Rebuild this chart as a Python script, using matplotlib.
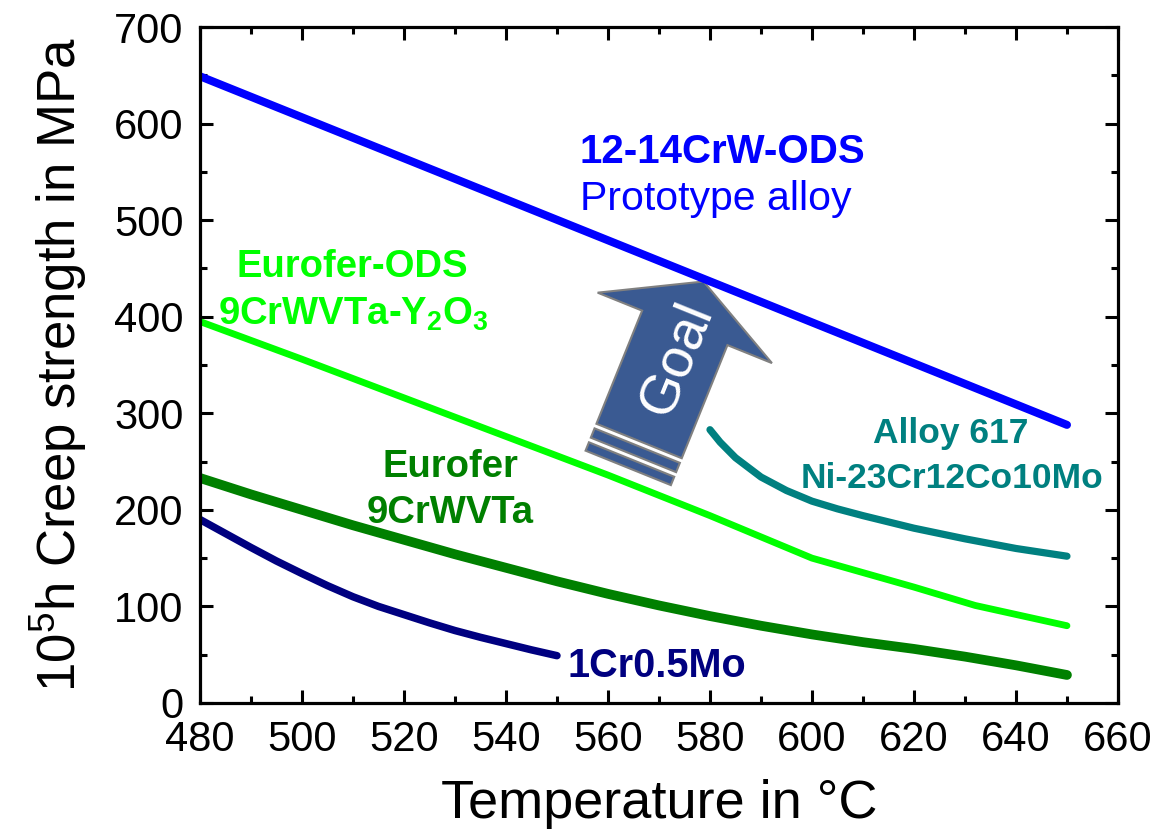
import matplotlib
matplotlib.use("Agg")
import matplotlib.pyplot as plt
from matplotlib.patches import Polygon
from matplotlib.transforms import Affine2D, ScaledTranslation

plt.rcParams['font.family'] = ['Liberation Sans', 'DejaVu Sans']
plt.rcParams['mathtext.fontset'] = 'custom'
plt.rcParams['mathtext.rm'] = 'Liberation Sans'
plt.rcParams['mathtext.it'] = 'Liberation Sans:italic'
plt.rcParams['mathtext.bf'] = 'Liberation Sans:bold'

# 1e5 h creep strength (MPa) over temperature (degC)
temp_crw_ods = [480, 650]
strength_crw_ods = [649, 288]

temp_eurofer_ods = [480, 500, 520, 540, 560, 580, 600, 620, 632, 650]
strength_eurofer_ods = [395, 356, 316, 276, 236, 194, 150, 120, 101, 80]

temp_eurofer = [480, 490, 500, 510, 520, 530, 540, 550, 560, 570,
                580, 590, 600, 610, 620, 630, 640, 650]
strength_eurofer = [233, 216, 200, 184, 169, 154, 140, 126, 113, 101,
                    90, 80, 71, 63, 56, 48, 39, 29]

temp_cr05mo = [480, 485, 490, 495, 500, 505, 510, 515,
               520, 525, 530, 535, 540, 545, 550]
strength_cr05mo = [190, 175.5, 161, 147, 134, 121.5, 110, 100,
                   91.5, 83, 75, 68, 61.5, 55, 49]

temp_alloy617 = [580, 582, 585, 590, 595, 600, 605, 610, 620, 630, 640, 650]
strength_alloy617 = [283, 270, 254, 234, 220, 209, 201, 194, 181, 170, 160, 152]

x_ticks = list(range(480, 661, 20))
y_ticks = list(range(0, 701, 100))


def goal_arrow(ax, x0, y0, angle):
    # outline in pixels, pointing up before rotation, origin at shaft bottom
    body = [(-46, 0), (-46, 122), (-94, 122), (0, 172),
            (94, 122), (46, 122), (46, 0)]
    bars = [(-5, -15), (-20, -29)]
    tr = Affine2D().rotate_deg(angle) + ScaledTranslation(x0, y0, ax.transData)
    style = dict(facecolor='#3A5A92', edgecolor='#808080', lw=1.5,
                 transform=tr, zorder=1.5)
    ax.add_patch(Polygon(body, closed=True, **style))
    for top, bot in bars:
        ax.add_patch(Polygon([(-46, top), (46, top), (46, bot), (-46, bot)],
                             closed=True, **style))
    ax.text(4, 90, 'Goal', transform=tr, rotation=90 + angle,
            rotation_mode='anchor', ha='center', va='center',
            color='white', fontsize=40, zorder=1.6)


fig = plt.figure(figsize=(11.56, 8.34), dpi=100)
ax = fig.add_axes([0.1730, 0.1571, 0.7941, 0.8105])

kw = dict(solid_capstyle='round', solid_joinstyle='round', zorder=2)
ax.plot(temp_crw_ods, strength_crw_ods, color='#0000FF', lw=5.8, **kw)
ax.plot(temp_eurofer_ods, strength_eurofer_ods, color='#00FF00', lw=4.9, **kw)
ax.plot(temp_eurofer, strength_eurofer, color='#008000', lw=7.0, **kw)
ax.plot(temp_cr05mo, strength_cr05mo, color='#000080', lw=5.4, **kw)
ax.plot(temp_alloy617, strength_alloy617, color='#008080', lw=5.2, **kw)

ax.set_xlim(480, 660)
ax.set_ylim(0, 700)

goal_arrow(ax, 566.1, 271.3, -22)

ax.text(582.5, 558.9, '12-14CrW-ODS', color='#0000FF', fontsize=29,
        fontweight='bold', ha='center', va='baseline')
ax.text(581.1, 510.5, 'Prototype alloy', color='#0000FF', fontsize=29.5,
        ha='center', va='baseline')
ax.text(509.9, 441.4, 'Eurofer-ODS', color='#00FF00', fontsize=27.5,
        fontweight='bold', ha='center', va='baseline')
ax.text(510.0, 391.4, r'9CrWVTa-$\mathbf{Y_2O_3}$', color='#00FF00',
        fontsize=27.5, fontweight='bold', ha='center', va='baseline')
ax.text(529.1, 234.3, 'Eurofer', color='#008000', fontsize=27.5,
        fontweight='bold', ha='center', va='baseline')
ax.text(529.0, 186.1, '9CrWVTa', color='#008000', fontsize=27.5,
        fontweight='bold', ha='center', va='baseline')
ax.text(569.5, 26.9, '1Cr0.5Mo', color='#000080', fontsize=28.5,
        fontweight='bold', ha='center', va='baseline')
ax.text(627.2, 268.9, 'Alloy 617', color='#008080', fontsize=25.5,
        fontweight='bold', ha='center', va='baseline')
ax.text(627.4, 222.3, 'Ni-23Cr12Co10Mo', color='#008080', fontsize=25.5,
        fontweight='bold', ha='center', va='baseline')

ax.set_xticks(x_ticks)
ax.set_yticks(y_ticks)
ax.set_xticks(range(490, 660, 20), minor=True)
ax.set_yticks(range(50, 700, 100), minor=True)
ax.tick_params(which='both', direction='in', top=True, right=True,
               width=2.2, labelsize=30, pad=12)
ax.tick_params(which='major', length=9.7)
ax.tick_params(which='minor', length=5)
for s in ax.spines.values():
    s.set_linewidth(2.3)

ax.set_xlabel('Temperature in °C', fontsize=39, labelpad=14)
ax.set_ylabel(r'$\mathregular{10^5}$h Creep strength in MPa', fontsize=38,
              labelpad=18)

fig.savefig('out.png', dpi=100)
